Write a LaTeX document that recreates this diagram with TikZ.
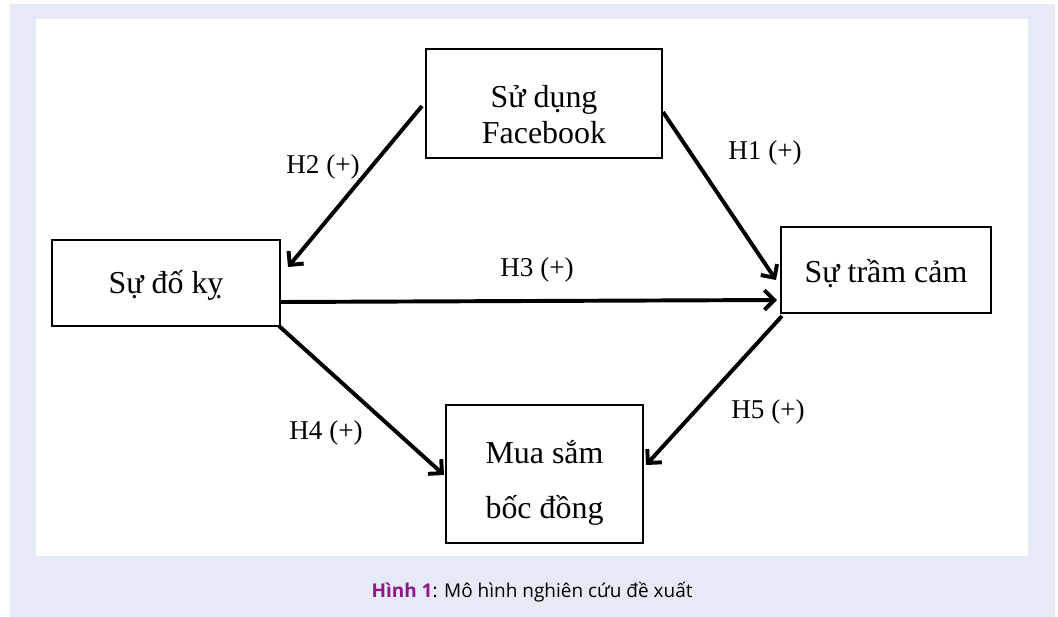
\documentclass[tikz,border=0pt]{standalone}
\usepackage{xcolor}
\usepackage{fontspec}
\setmainfont{Liberation Serif}
\newfontfamily\capfont{Open Sans}
\usepackage{tikz}
\usetikzlibrary{arrows.meta, calc}
\definecolor{pagebg}{RGB}{230,234,246}
\definecolor{figpurple}{RGB}{142,22,138}
\tikzset{
  box/.style={rectangle, draw=black, line width=1.4pt, inner sep=0pt},
  boxtext/.style={align=center, inner sep=0pt,
    font=\fontsize{22.7}{26}\selectfont},
  hyp/.style={font=\fontsize{19.3}{22}\selectfont},
  arrow/.style={-{Straight Barb[length=7pt,width=14pt]}, line width=2.8pt}
}
\begin{document}
\begin{tikzpicture}[x=0.025cm, y=-0.025cm]
  % Page and white panel
  \useasboundingbox (0,0) rectangle (1058,617);
  \fill[pagebg] (10,4) rectangle (1055,617);
  \fill[white] (36,19) rectangle (1028,556);

  % Boxes
  \node[box, minimum width=5.9cm, minimum height=2.725cm,
    label={[boxtext, yshift=-0.28cm]center:{Sử dụng\\Facebook}}] (fb) at (544,103.5) {};
  \node[box, minimum width=5.7cm, minimum height=2.15cm,
    label={[boxtext, yshift=-0.05cm]center:Sự đố kỵ}] (envy) at (166,283) {};
  \node[box, minimum width=5.25cm, minimum height=2.15cm,
    label={[boxtext, yshift=-0.1cm]center:Sự trầm cảm}] (dep) at (886,270) {};
  \node[box, minimum width=4.925cm, minimum height=3.45cm,
    label={[boxtext, yshift=-0.23cm]center:{Mua sắm\\[13pt]bốc đồng}}] (shop) at (544.5,474) {};

  % Hypotheses
  \draw[arrow] ($(fb.west)+(-3,2.5)$) -- ($(envy.north east)+(7,28)$);
  \draw[arrow] ($(fb.east)+(0,8.5)$) -- ($(dep.west)+(-4,10)$);
  \draw[arrow] ($(envy.east)+(0,19)$) -- ($(dep.west)+(-3,30)$);
  \draw[arrow] ($(envy.south east)+(-2,-1)$) -- ($(shop.west)+(-1,1)$);
  \draw[arrow] ($(dep.south west)+(2,2)$) -- ($(shop.east)+(2,-9)$);

  % Labels
  \node[hyp] (h1) at (765,153) {H1 (+)};
  \node[hyp] (h2) at (323,167) {H2 (+)};
  \node[hyp] (h3) at (537,270) {H3 (+)};
  \node[hyp] (h4) at (326,433) {H4 (+)};
  \node[hyp] (h5) at (768,412) {H5 (+)};

  % Caption
  \node[font=\capfont\fontsize{13.5}{16}\selectfont] (cap) at (532,592)
    {\textcolor{figpurple}{\bfseries Hình 1}: Mô hình nghiên cứu đề xuất};
\end{tikzpicture}
\end{document}
